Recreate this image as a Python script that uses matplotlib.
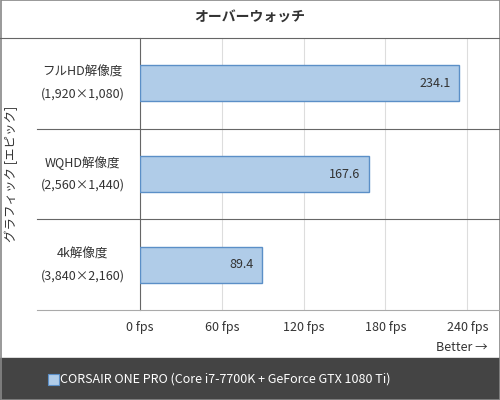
import matplotlib.pyplot as plt
from matplotlib.patches import Rectangle
from matplotlib.lines import Line2D

plt.rcParams['font.family'] = ['Noto Sans CJK JP', 'DejaVu Sans']

title = 'オーバーウォッチ'
categories = ['フルHD解像度\n(1,920×1,080)', 'WQHD解像度\n(2,560×1,440)', '4k解像度\n(3,840×2,160)']
values = [234.1, 167.6, 89.4]
ticks = [0, 60, 120, 180, 240]
ylabel = 'グラフィック [エピック]'
legend_label = 'CORSAIR ONE PRO (Core i7-7700K + GeForce GTX 1080 Ti)'

fig = plt.figure(figsize=(5, 4), dpi=100)
ax = fig.add_axes([0.28, 0.225, 0.72, 0.68])

pos = list(range(len(categories)))[::-1]
ax.barh(pos, values, height=0.4, color='#b0cce8', edgecolor='#5b8fc7', linewidth=1, zorder=3)
for p, v in zip(pos, values):
    ax.text(v - 6, p, f'{v:.1f}', ha='right', va='center', fontsize=9, color='#333333', zorder=4)

ax.set_xlim(0, 264)
ax.set_ylim(-0.5, 2.5)
ax.set_xticks(ticks)
ax.set_xticklabels([f'{t} fps' for t in ticks], fontsize=9, color='#333333')
ax.set_yticks([])
ax.tick_params(axis='x', length=0, pad=8)
ax.grid(axis='x', color='#dddddd', linewidth=0.8, zorder=0)
for s in ['top', 'right', 'bottom']:
    ax.spines[s].set_visible(False)
ax.spines['left'].set_color('#666666')

# category labels and separators
for p, c in zip(pos, categories):
    fig.text(0.165, 0.225 + 0.68 * (p + 0.5) / 3, c, ha='center', va='center',
             fontsize=9, color='#333333', linespacing=1.9)
for b in [0.5, 1.5]:
    yf = 0.225 + 0.68 * (b + 0.5) / 3
    fig.add_artist(Line2D([0.074, 1], [yf, yf], color='#666666', linewidth=0.8))
fig.add_artist(Line2D([0.074, 1], [0.225, 0.225], color='#aaaaaa', linewidth=0.8))
fig.add_artist(Line2D([0, 1], [0.905, 0.905], color='#666666', linewidth=0.8))

fig.text(0.5, 0.955, title, ha='center', va='center', fontsize=10, fontweight='bold', color='#333333')
fig.text(0.022, 0.565, ylabel, rotation=90, ha='center', va='center', fontsize=9, color='#333333')
fig.text(0.976, 0.132, 'Better →', ha='right', va='center', fontsize=9, color='#333333')

# legend band
fig.add_artist(Rectangle((0, 0), 1, 0.105, transform=fig.transFigure, color='#444444', zorder=0))
fig.add_artist(Rectangle((0.096, 0.038), 0.022, 0.0275, transform=fig.transFigure,
                         facecolor='#b0cce8', edgecolor='#5b8fc7', linewidth=0.8))
fig.text(0.12, 0.052, legend_label, ha='left', va='center', fontsize=9, color='white')

fig.add_artist(Rectangle((0.001, 0.001), 0.998, 0.998, transform=fig.transFigure,
                         fill=False, edgecolor='#888888', linewidth=1.2))

fig.savefig('out.png', dpi=100)
